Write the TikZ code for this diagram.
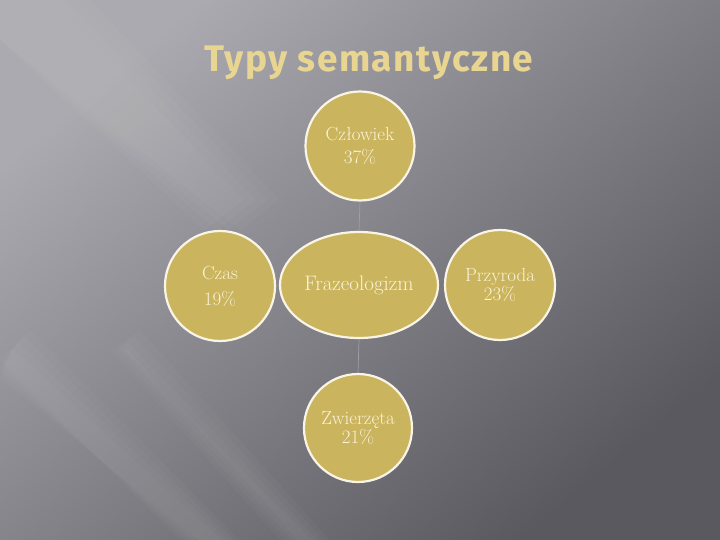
\documentclass[tikz,border=0pt]{standalone}
\usepackage{fontspec}
\newfontfamily\titlefont[LetterSpace=4]{Fira Sans}
\usetikzlibrary{shapes.geometric}
\definecolor{bglight}{HTML}{ABAAB0}
\definecolor{bgmid}{HTML}{727178}
\definecolor{bgdark}{HTML}{5A5960}
\definecolor{goldfill}{HTML}{CBB45E}
\definecolor{rimc}{HTML}{F8F4E6}
\definecolor{txtc}{HTML}{FBF3D5}
\definecolor{titlec}{HTML}{E9D592}
\definecolor{linkc}{HTML}{A09EA6}
\begin{document}
\begin{tikzpicture}[x=1pt,y=-1pt,
  bub/.style={circle, fill=goldfill, draw=rimc, line width=2.2pt, minimum size=108pt, inner sep=0pt, text=txtc, align=center, font=\fontsize{19}{24}\selectfont},
  hub/.style={ellipse, fill=goldfill, draw=rimc, line width=2.2pt, minimum width=158pt, minimum height=106pt, inner sep=0pt, text=txtc, font=\fontsize{21}{22}\selectfont},
  link/.style={draw=linkc, line width=0.7pt},
  streak/.style={white, opacity=0.025}]
\useasboundingbox (0,0) rectangle (720,540);
% background
\shade[top color=bglight, middle color=bgmid, bottom color=bgdark, shading angle=40] (0,0) rectangle (720,540);
\foreach \d in {0,6,12,18} {
  \fill[streak] (0,{360+\d}) -- ({30-\d},{330+\d}) -- ({240-\d},540) -- ({180+\d},540) -- cycle;
  \fill[streak] ({110+\d},350) -- ({140-\d},{330+\d}) -- ({330-\d},540) -- ({280+\d},540) -- cycle;
  \fill[streak] (0,0) -- ({90-2*\d},0) -- ({280-2*\d},200) -- ({240-2*\d},230) -- (0,40) -- cycle;
}
% title
\node[font=\titlefont\bfseries\fontsize{37}{44}\selectfont, text=titlec, anchor=base] (title) at (369,72) {Typy semantyczne};
% nodes
\node[hub] (hub) at (359,285) {Frazeologizm};
\node[bub, minimum size=109pt] (top) at (360,146) {Człowiek\\[-1pt]37\%};
\node[bub, minimum size=110pt, font=\fontsize{19}{26}\selectfont] (left) at (220,286) {Czas\\19\%};
\node[bub, minimum size=110pt, font=\fontsize{19}{18}\selectfont] (right) at (500,285) {Przyroda\\23\%};
\node[bub, minimum size=108pt, font=\fontsize{19}{17}\selectfont] (bottom) at (358,428) {Zwierzęta\\21\%};
% links
\draw[link] (top.south) -- (hub.north);
\draw[link] (hub.south) -- (bottom.north);
\end{tikzpicture}
\end{document}
